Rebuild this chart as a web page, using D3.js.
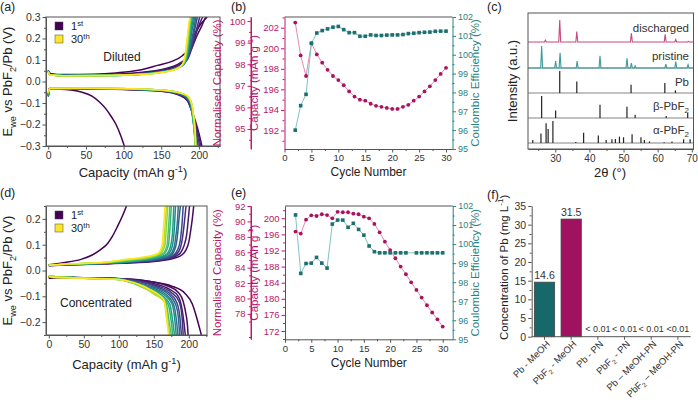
<!DOCTYPE html>
<html><head><meta charset="utf-8">
<script src="https://cdn.jsdelivr.net/npm/d3@7"></script>
<style>body{margin:0;background:#fff;} svg{display:block;}</style>
</head><body><svg id="c" width="698" height="402"></svg>
<script>
// ---------------- DATA ----------------
// (a) diluted: representative cycles, [capacity mAh/g, E V]
const dilutedCycles = [1, 2, 3, 5, 7, 10, 12, 15, 17, 20, 22, 25, 27, 30];
const dilutedCharge = [
  [[0,0.045],[4,0.036],[20,0.032],[60,0.034],[90,0.040],[120,0.052],[145,0.075],[165,0.095],[178,0.12],[186,0.15],[193,0.21],[202,0.265],[211,0.30]],
  [[0,0.046],[3,0.034],[20,0.030],[60,0.031],[100,0.036],[130,0.045],[155,0.060],[172,0.080],[182,0.105],[190,0.15],[197,0.21],[204,0.26],[209,0.30]],
  [[0,0.047],[3,0.033],[20,0.030],[70,0.031],[110,0.036],[140,0.046],[162,0.062],[176,0.082],[184,0.108],[190,0.155],[196,0.22],[201,0.27],[205,0.30]],
  [[0,0.050],[2,0.033],[20,0.029],[80,0.030],[120,0.036],[150,0.047],[170,0.065],[180,0.085],[186,0.11],[191,0.16],[196,0.23],[201,0.30]],
  [[0,0.051],[2,0.032],[20,0.029],[80,0.030],[120,0.035],[150,0.046],[170,0.064],[180,0.084],[185,0.11],[190,0.165],[194,0.235],[198,0.30]],
  [[0,0.052],[2,0.032],[20,0.028],[80,0.029],[120,0.034],[150,0.045],[170,0.062],[180,0.082],[185,0.11],[189,0.17],[193,0.24],[196,0.30]],
  [[0,0.051],[2,0.032],[20,0.028],[80,0.029],[120,0.034],[150,0.045],[170,0.061],[180,0.081],[184,0.11],[188,0.17],[191,0.24],[194.5,0.30]],
  [[0,0.050],[2,0.031],[20,0.028],[80,0.029],[120,0.033],[150,0.044],[170,0.060],[180,0.080],[184,0.11],[187,0.17],[190,0.24],[193,0.30]],
  [[0,0.049],[2,0.031],[20,0.028],[80,0.028],[120,0.033],[150,0.044],[170,0.060],[180,0.080],[183.5,0.11],[186.5,0.175],[189,0.24],[191.5,0.30]],
  [[0,0.048],[2,0.031],[20,0.027],[80,0.028],[120,0.033],[150,0.043],[170,0.060],[179,0.080],[183,0.11],[186,0.18],[188,0.24],[190,0.30]],
  [[0,0.047],[2,0.031],[20,0.027],[80,0.028],[120,0.033],[150,0.043],[170,0.060],[179,0.080],[182.5,0.11],[185.5,0.18],[187.5,0.245],[189.5,0.30]],
  [[0,0.046],[2,0.030],[20,0.027],[80,0.028],[120,0.032],[150,0.043],[170,0.060],[179,0.080],[182,0.11],[185,0.18],[187,0.25],[189,0.30]],
  [[0,0.046],[2,0.030],[20,0.027],[80,0.028],[120,0.032],[150,0.042],[170,0.059],[178.5,0.080],[181.5,0.11],[184.5,0.185],[186.5,0.25],[188.5,0.30]],
  [[0,0.045],[2,0.030],[20,0.027],[80,0.028],[120,0.032],[150,0.042],[170,0.058],[178,0.080],[181,0.11],[184,0.19],[186,0.25],[188,0.30]]
];
const dilutedDischarge = [
  [[0,-0.035],[15,-0.036],[30,-0.040],[45,-0.050],[58,-0.068],[68,-0.095],[76,-0.125],[84,-0.165],[90,-0.20],[96,-0.25],[101,-0.30]],
  [[0,-0.060],[2,-0.035],[50,-0.034],[100,-0.037],[150,-0.045],[175,-0.065],[185,-0.09],[190,-0.13],[195,-0.18],[200,-0.24],[204,-0.30]],
  [[0,-0.062],[2,-0.034],[50,-0.033],[100,-0.036],[150,-0.044],[175,-0.063],[185,-0.09],[190,-0.135],[195,-0.19],[199,-0.245],[202.5,-0.30]],
  [[0,-0.065],[2,-0.034],[50,-0.033],[100,-0.036],[150,-0.043],[176,-0.062],[186,-0.09],[191,-0.14],[195,-0.20],[198,-0.25],[201,-0.30]],
  [[0,-0.068],[2,-0.034],[50,-0.033],[100,-0.036],[150,-0.043],[177,-0.062],[186.5,-0.09],[191,-0.14],[194.5,-0.205],[197.5,-0.26],[199,-0.30]],
  [[0,-0.070],[2,-0.033],[50,-0.032],[100,-0.035],[150,-0.042],[178,-0.062],[187,-0.09],[191,-0.14],[194,-0.21],[197,-0.30]],
  [[0,-0.069],[2,-0.033],[50,-0.032],[100,-0.035],[150,-0.042],[178.5,-0.061],[187.5,-0.09],[191,-0.145],[194,-0.22],[196.5,-0.30]],
  [[0,-0.068],[2,-0.033],[50,-0.032],[100,-0.034],[150,-0.041],[179,-0.060],[188,-0.09],[191,-0.15],[194,-0.23],[196,-0.30]],
  [[0,-0.065],[2,-0.033],[50,-0.032],[100,-0.034],[150,-0.041],[179.5,-0.060],[188.5,-0.09],[191.5,-0.155],[194,-0.235],[195.8,-0.30]],
  [[0,-0.062],[2,-0.032],[50,-0.031],[100,-0.034],[150,-0.040],[180,-0.060],[189,-0.09],[192,-0.16],[194,-0.24],[195.5,-0.30]],
  [[0,-0.060],[2,-0.032],[50,-0.031],[100,-0.034],[150,-0.040],[181,-0.061],[189.5,-0.095],[192.5,-0.165],[194.5,-0.24],[195.3,-0.30]],
  [[0,-0.055],[2,-0.032],[50,-0.031],[100,-0.033],[150,-0.040],[182,-0.062],[190,-0.10],[193,-0.17],[195,-0.30]],
  [[0,-0.053],[2,-0.032],[50,-0.031],[100,-0.033],[150,-0.040],[182.5,-0.062],[190.5,-0.105],[193,-0.165],[195,-0.25],[195.5,-0.30]],
  [[0,-0.050],[2,-0.031],[50,-0.030],[100,-0.033],[150,-0.040],[183,-0.062],[191,-0.11],[193,-0.16],[195,-0.22],[196,-0.30]]
];
// (d) concentrated
const concCycles = [1, 2, 3, 5, 7, 10, 12, 15, 17, 20, 22, 25, 27, 30];
const concCharge = [
  [[0,0.022],[20,0.030],[46,0.043],[62,0.060],[74,0.081],[84,0.105],[91,0.133],[98,0.17],[105,0.21],[111,0.25]],
  [[0,0.018],[30,0.022],[80,0.026],[120,0.030],[160,0.038],[180,0.048],[190,0.060],[196,0.080],[200,0.11],[203,0.16],[205,0.20],[207,0.25]],
  [[0,0.019],[30,0.022],[80,0.026],[120,0.031],[160,0.040],[179,0.052],[188,0.068],[193,0.095],[197,0.14],[199,0.19],[201,0.25]],
  [[0,0.020],[30,0.023],[80,0.027],[120,0.032],[160,0.042],[178,0.055],[186,0.075],[190,0.11],[193,0.17],[196,0.25]],
  [[0,0.020],[30,0.023],[80,0.027],[120,0.033],[160,0.044],[177,0.057],[184,0.08],[188,0.12],[190,0.17],[192,0.25]],
  [[0,0.020],[30,0.024],[80,0.028],[120,0.034],[160,0.046],[175,0.060],[181,0.09],[184,0.14],[186,0.20],[188,0.25]],
  [[0,0.020],[30,0.024],[80,0.028],[120,0.035],[158,0.047],[173,0.061],[179,0.09],[182,0.145],[184,0.20],[185,0.25]],
  [[0,0.020],[30,0.024],[80,0.029],[120,0.036],[155,0.048],[170,0.062],[176,0.09],[179,0.15],[181,0.25]],
  [[0,0.020],[30,0.024],[80,0.029],[120,0.037],[153,0.049],[168,0.063],[174,0.095],[177,0.155],[178.5,0.25]],
  [[0,0.020],[30,0.025],[80,0.030],[120,0.038],[150,0.050],[165,0.065],[171,0.10],[173,0.16],[175,0.25]],
  [[0,0.020],[30,0.025],[80,0.030],[115,0.039],[148,0.051],[163,0.065],[169,0.10],[171,0.165],[173,0.25]],
  [[0,0.020],[30,0.025],[80,0.031],[110,0.040],[145,0.052],[160,0.066],[166,0.10],[168,0.17],[170,0.25]],
  [[0,0.020],[30,0.025],[80,0.031],[108,0.041],[143,0.053],[158,0.066],[164,0.10],[166,0.17],[168,0.25]],
  [[0,0.020],[30,0.026],[80,0.032],[105,0.042],[140,0.054],[156,0.066],[162,0.10],[164,0.17],[166,0.25]]
];
const concDischarge = [
  [[0,-0.030],[30,-0.028],[80,-0.030],[120,-0.035],[150,-0.045],[175,-0.060],[195,-0.09],[205,-0.13],[211,-0.18],[215,-0.22],[218,-0.25]],
  [[0,-0.025],[30,-0.027],[80,-0.030],[120,-0.034],[150,-0.045],[170,-0.060],[185,-0.085],[192,-0.12],[196,-0.17],[198,-0.21],[199,-0.25]],
  [[0,-0.025],[40,-0.028],[90,-0.031],[125,-0.038],[152,-0.052],[172,-0.072],[185,-0.10],[190,-0.145],[193,-0.20],[195,-0.25]],
  [[0,-0.025],[50,-0.028],[100,-0.032],[130,-0.042],[155,-0.060],[175,-0.085],[186,-0.12],[190,-0.17],[192,-0.25]],
  [[0,-0.024],[50,-0.028],[100,-0.032],[128,-0.043],[152,-0.062],[172,-0.087],[183,-0.125],[187,-0.175],[189.5,-0.25]],
  [[0,-0.024],[50,-0.029],[100,-0.033],[125,-0.045],[150,-0.065],[170,-0.09],[181,-0.13],[185,-0.18],[187,-0.25]],
  [[0,-0.024],[50,-0.029],[100,-0.033],[122,-0.045],[147,-0.067],[167,-0.092],[178,-0.13],[182,-0.185],[184.5,-0.25]],
  [[0,-0.023],[50,-0.029],[100,-0.034],[120,-0.046],[145,-0.070],[165,-0.095],[176,-0.13],[180,-0.19],[182,-0.25]],
  [[0,-0.023],[50,-0.029],[100,-0.034],[119,-0.046],[143,-0.071],[162,-0.097],[173,-0.132],[177,-0.195],[179.5,-0.25]],
  [[0,-0.022],[50,-0.030],[100,-0.035],[118,-0.047],[140,-0.072],[160,-0.10],[171,-0.135],[175,-0.20],[177,-0.25]],
  [[0,-0.022],[50,-0.030],[100,-0.035],[118,-0.047],[139,-0.071],[157,-0.097],[168,-0.13],[172,-0.20],[175,-0.25]],
  [[0,-0.022],[50,-0.030],[100,-0.035],[118,-0.047],[138,-0.070],[155,-0.095],[166,-0.125],[170,-0.20],[173,-0.25]],
  [[0,-0.022],[50,-0.030],[100,-0.035],[119,-0.046],[136,-0.065],[150,-0.092],[165,-0.12],[168,-0.18],[172,-0.25]],
  [[0,-0.022],[10,-0.028],[50,-0.030],[100,-0.035],[120,-0.045],[135,-0.060],[145,-0.074],[155,-0.09],[164,-0.112],[167,-0.15],[169,-0.20],[171,-0.25]]
];

// (b) diluted cycling
const cycleNumbers = [2,3,4,5,6,7,8,9,10,11,12,13,14,15,16,17,18,19,20,21,22,23,24,25,26,27,28,29,30];
const capDiluted = [202.5,199.3,197.3,200.5,199.4,198.6,197.9,197.3,196.9,196.4,195.8,195.3,195.0,194.9,194.6,194.4,194.3,194.2,194.1,194.1,194.3,194.5,194.9,195.3,195.8,196.3,196.9,197.5,198.1];
const ceDiluted = [96.0,97.3,97.9,100.6,101.15,101.28,101.37,101.46,101.5,101.33,101.17,101.17,100.98,100.98,101.05,101.02,101.02,101.04,101.05,101.05,101.07,101.12,101.14,101.17,101.19,101.2,101.24,101.25,101.25];
// (e) concentrated cycling
const capConc = [196.7,196.2,199.65,200.74,200.57,201.0,200.8,200.0,201.6,201.5,201.5,201.15,201.0,200.4,200.0,198.6,196.5,194.2,192.1,190.07,188.0,186.1,184.1,182.2,180.3,178.4,176.6,174.9,173.1];
const ceConcCycles = [2,3,4,5,6,7,8,9,10,11,12,13,14,15,16,17,18,19,20,21,22,23,25,26,27,28,29,30];
const ceConc = [101.53,98.46,98.98,99.0,99.3,99.0,98.74,101.05,101.26,101.26,100.88,101.09,100.77,100.47,99.9,99.6,99.54,99.54,99.54,99.54,99.54,99.54,99.54,99.54,99.54,99.54,99.54,99.54];

// (c) XRD: [2theta, relative intensity]
const xrdDischarged = [[27.1,8],[31.3,100],[36.3,48],[52.3,40],[62.2,35],[65.3,11],[69.0,3]];
const xrdPristine = [[26.0,100],[30.1,32],[31.4,69],[36.4,32],[43.1,56],[51.0,44],[52.3,22],[53.4,10],[62.4,18],[65.3,29],[68.9,15]];
const refPb = [[31.3,100],[36.3,52],[52.2,37],[62.1,45],[65.2,12]];
const refBeta = [[26.0,100],[30.1,34],[43.1,60],[51.0,51],[53.4,15],[62.5,9],[68.8,23]];
const refAlpha = [[23.4,14],[25.8,43],[27.3,90],[27.9,64],[29.3,100],[36.0,4],[38.3,47],[42.6,34],[44.9,14],[46.6,17],[47.6,18],[48.8,29],[50.0,26],[52.5,40],[55.1,26],[56.1,14],[57.6,7],[61.9,3],[64.2,7],[67.6,17],[69.5,17]];
const xrdLabels = ["discharged", "pristine", "Pb", "β-PbF₂", "α-PbF₂"];

// (f) Pb concentration
const fCategories = ["Pb - MeOH", "PbF₂ - MeOH", "Pb - PN", "PbF₂ - PN", "Pb – MeOH-PN", "PbF₂ – MeOH-PN"];
const fValues = [14.6, 31.5, 0, 0, 0, 0];
const fLabels = ["14.6", "31.5", "< 0.01", "< 0.01", "< 0.01", "<0.01"];

// ---------------- DRAWING ----------------
const FONT = '"Liberation Sans", Arial, Helvetica, sans-serif';
const svg = d3.select('#c').attr('font-family', FONT);
const GRAY = '#555', TXT = '#333';
const PINK = '#c2186b', PINKTXT = '#b8176a', TEAL = '#2b8585', TEALTXT = '#2a8282';

function addAxis(parent, kind, scale, pos, major, minor, fmt, color, txtColor, fs) {
  const make = {bottom: d3.axisBottom, left: d3.axisLeft, right: d3.axisRight}[kind];
  const tr = kind === 'bottom' ? `translate(0,${pos})` : `translate(${pos},0)`;
  if (minor && minor.length) {
    const gm = parent.append('g').attr('transform', tr)
      .call(make(scale).tickValues(minor).tickFormat('').tickSize(2).tickSizeOuter(0));
    gm.select('.domain').remove();
    gm.selectAll('line').attr('stroke', color);
  }
  const g = parent.append('g').attr('transform', tr)
    .call(make(scale).tickValues(major).tickFormat(fmt).tickSize(3.5).tickSizeOuter(0).tickPadding(2));
  g.attr('font-family', null).attr('font-size', null);
  g.select('.domain').attr('stroke', color);
  g.selectAll('.tick line').attr('stroke', color);
  g.selectAll('.tick text').attr('fill', txtColor || TXT).attr('font-size', fs || 10.5);
  return g;
}
function rich(parent, x, y, parts, size, color, anchor, rot) {
  const t = parent.append('text').attr('transform', `translate(${x},${y}) rotate(${rot || 0})`)
    .attr('text-anchor', anchor || 'middle').attr('font-size', size).attr('fill', color || TXT);
  let shift = 0;
  parts.forEach(p => {
    const s = typeof p === 'string' ? p : p[0];
    const mode = typeof p === 'string' ? null : p[1];
    const target = mode === 'sub' ? size * 0.3 : mode === 'sup' ? -size * 0.4 : 0;
    t.append('tspan').attr('dy', target - shift).attr('font-size', mode ? size * 0.7 : size).text(s);
    shift = target;
  });
  return t;
}
function panelLabel(x, y, s) {
  svg.append('text').attr('x', x).attr('y', y).attr('font-size', 12.5).attr('fill', '#222').text(s);
}
const defs = svg.append('defs');

// ---- voltage panels (a), (d)
function voltagePanel(opt) {
  const g = svg.append('g');
  const x = d3.scaleLinear(opt.xDom, [opt.left, opt.right]);
  const y = d3.scaleLinear(opt.yDom, [opt.bottom, opt.top]);
  defs.append('clipPath').attr('id', opt.id).append('rect')
    .attr('x', opt.left).attr('y', opt.top).attr('width', opt.right - opt.left).attr('height', opt.bottom - opt.top);
  const line = d3.line().x(d => x(d[0])).y(d => y(d[1])).curve(d3.curveMonotoneX);
  const pg = g.append('g').attr('clip-path', `url(#${opt.id})`);
  opt.cycles.forEach((c, i) => {
    const col = d3.interpolateViridis((c - 1) / 29);
    [opt.charge[i], opt.discharge[i]].forEach(arr => {
      pg.append('path').attr('d', line(arr)).attr('fill', 'none').attr('stroke', col).attr('stroke-width', 1.5);
    });
  });
  g.append('rect').attr('x', opt.left).attr('y', opt.top).attr('width', opt.right - opt.left)
    .attr('height', opt.bottom - opt.top).attr('fill', 'none').attr('stroke', GRAY);
  addAxis(g, 'bottom', x, opt.bottom, [0, 50, 100, 150, 200], [25, 75, 125, 175, 225].filter(v => v <= opt.xDom[1]), d3.format('d'), GRAY);
  addAxis(g, 'left', y, opt.left, opt.yTicks, opt.yMinor, d3.format('.1f'), GRAY);
  rich(g, 12, (opt.top + opt.bottom) / 2, ['E', ['we', 'sub'], ' vs PbF', ['2', 'sub'], '/Pb (V)'], 13, '#222', 'middle', -90);
  rich(g, (opt.left + opt.right) / 2, opt.xTitleY, ['Capacity (mAh g', ['-1', 'sup'], ')'], 13, '#222', 'middle');
  // legend
  [[1, opt.legY], [30, opt.legY + 13]].forEach(([c, yy], k) => {
    g.append('rect').attr('x', 55).attr('y', yy - 4).attr('width', 8).attr('height', 8)
      .attr('fill', d3.interpolateViridis((c - 1) / 29)).attr('stroke', '#444').attr('stroke-width', 0.5);
    rich(g, 71, yy + 4, k === 0 ? ['1', ['st', 'sup']] : ['30', ['th', 'sup']], 11, '#222', 'start');
  });
  g.append('text').attr('x', opt.tagX).attr('y', opt.tagY).attr('text-anchor', opt.tagAnchor)
    .attr('font-size', 12).attr('fill', '#222').text(opt.tag);
}
voltagePanel({id: 'ca', xDom: [-3, 228], yDom: [-0.3, 0.3], left: 46, right: 220, top: 17, bottom: 146,
  cycles: dilutedCycles, charge: dilutedCharge, discharge: dilutedDischarge,
  yTicks: [-0.3, -0.2, -0.1, 0, 0.1, 0.2, 0.3], yMinor: [-0.25, -0.15, -0.05, 0.05, 0.15, 0.25],
  xTitleY: 177, legY: 26, tag: 'Diluted', tagX: 122, tagY: 61, tagAnchor: 'middle'});
voltagePanel({id: 'cd', xDom: [-4, 226], yDom: [-0.25, 0.25], left: 46, right: 207, top: 206, bottom: 335,
  cycles: concCycles, charge: concCharge, discharge: concDischarge,
  yTicks: [-0.2, -0.1, 0, 0.1, 0.2], yMinor: [-0.25, -0.15, -0.05, 0.05, 0.15, 0.25],
  xTitleY: 369, legY: 215, tag: 'Concentrated', tagX: 60, tagY: 307, tagAnchor: 'start'});

// ---- cycling panels (b), (e)
function cyclingPanel(opt) {
  const g = svg.append('g');
  const x = d3.scaleLinear(opt.xDom, [opt.left, opt.right]);
  const yCap = d3.scaleLinear(opt.capDom, [opt.bottom, opt.top]);
  const yNorm = d3.scaleLinear(opt.normDom, [opt.bottom, opt.top]);
  const yCE = d3.scaleLinear([95, 102], [opt.bottom, opt.top]);
  const FS = 9.5, TS = 11.5;
  g.append('line').attr('x1', opt.left).attr('x2', opt.right).attr('y1', opt.top).attr('y2', opt.top).attr('stroke', GRAY);
  addAxis(g, 'bottom', x, opt.bottom, [0, 5, 10, 15, 20, 25, 30], [2.5, 7.5, 12.5, 17.5, 22.5, 27.5], d3.format('d'), GRAY, TXT, FS);
  addAxis(g, 'left', yCap, opt.left, opt.capTicks, opt.capMinor, d3.format('d'), PINK, PINKTXT, FS);
  addAxis(g, 'left', yNorm, opt.normX, opt.normTicks, opt.normMinor, d3.format('d'), PINK, PINKTXT, FS);
  addAxis(g, 'right', yCE, opt.right, [95, 96, 97, 98, 99, 100, 101, 102], [95.5, 96.5, 97.5, 98.5, 99.5, 100.5, 101.5], d3.format('d'), TEAL, TEALTXT, 9);
  g.append('line').attr('x1', opt.normX).attr('x2', opt.normX).attr('y1', opt.top).attr('y2', opt.bottom).attr('stroke', PINK);
  const mid = (opt.top + opt.bottom) / 2;
  g.append('text').attr('transform', `translate(${opt.normX - 30},${mid}) rotate(-90)`).attr('text-anchor', 'middle')
    .attr('font-size', TS).attr('fill', PINKTXT).text('Normalised Capacity (%)');
  rich(g, opt.left - 27, mid, ['Capacity (mAh g', ['-1', 'sup'], ')'], TS, PINKTXT, 'middle', -90);
  g.append('text').attr('transform', `translate(${opt.right + 26},${mid}) rotate(-90)`).attr('text-anchor', 'middle')
    .attr('font-size', TS).attr('fill', TEALTXT).text('Coulombic Efficiency (%)');
  g.append('text').attr('x', (opt.left + opt.right) / 2).attr('y', opt.xTitleY).attr('text-anchor', 'middle')
    .attr('font-size', 12).attr('fill', '#222').text('Cycle Number');
  const capPts = opt.cycles.map((c, i) => [c, opt.cap[i]]);
  const cePts = opt.ceCycles.map((c, i) => [c, opt.ce[i]]);
  g.append('path').attr('d', d3.line().x(d => x(d[0])).y(d => yCap(d[1]))(capPts))
    .attr('fill', 'none').attr('stroke', '#e68ab3').attr('stroke-width', 1);
  g.append('path').attr('d', d3.line().x(d => x(d[0])).y(d => yCE(d[1]))(cePts))
    .attr('fill', 'none').attr('stroke', '#7fc3c3').attr('stroke-width', 1);
  g.selectAll(null).data(capPts).join('circle').attr('cx', d => x(d[0])).attr('cy', d => yCap(d[1]))
    .attr('r', 1.9).attr('fill', '#a8125e');
  g.selectAll(null).data(cePts).join('rect').attr('x', d => x(d[0]) - 1.8).attr('y', d => yCE(d[1]) - 1.8)
    .attr('width', 3.6).attr('height', 3.6).attr('fill', '#1d6f71');
}
cyclingPanel({xDom: [0, 31.2], left: 284.5, right: 452.5, top: 17, bottom: 149, normX: 251,
  capDom: [190.2, 203.04], normDom: [94.07, 100.19],
  capTicks: [192, 194, 196, 198, 200, 202], capMinor: [191, 193, 195, 197, 199, 201, 203],
  normTicks: [95, 96, 97, 98, 99, 100], normMinor: [94.5, 95.5, 96.5, 97.5, 98.5, 99.5],
  cycles: cycleNumbers, cap: capDiluted, ceCycles: cycleNumbers, ce: ceDiluted, xTitleY: 176});
cyclingPanel({xDom: [0, 31.9], left: 285, right: 452.7, top: 206, bottom: 339.3, normX: 251,
  capDom: [169.94, 203.05], normDom: [74.7, 92],
  capTicks: [172, 176, 180, 184, 188, 192, 196, 200], capMinor: [170, 174, 178, 182, 186, 190, 194, 198, 202],
  normTicks: [78, 80, 82, 84, 86, 88, 90, 92], normMinor: [75, 77, 79, 81, 83, 85, 87, 89, 91],
  cycles: cycleNumbers, cap: capConc, ceCycles: ceConcCycles, ce: ceConc, xTitleY: 367});

// ---- XRD panel (c)
(function () {
  const g = svg.append('g');
  const left = 528, right = 693.5, top = 13, bottom = 149;
  const x = d3.scaleLinear([22, 70.5], [left, right]);
  const bases = [42, 68, 93, 118, 143];
  const colors = ['#c9477f', '#3b9b9b', '#222', '#222', '#222'];
  const patterns = [xrdDischarged, xrdPristine, refPb, refBeta, refAlpha];
  [68, 93, 118, 143].forEach(b => g.append('line').attr('x1', left).attr('x2', right).attr('y1', b).attr('y2', b)
    .attr('stroke', '#666').attr('stroke-width', 0.8));
  patterns.forEach((pat, i) => {
    const y = d3.scaleLinear([0, 100], [bases[i], bases[i] - 22]);
    if (i < 2) {
      const pts = [[22, 0]];
      pat.forEach(([p, h]) => { pts.push([p - 0.28, 0], [p, h], [p + 0.28, 0]); });
      pts.push([70.5, 0]);
      g.append('path').attr('d', d3.line().x(d => x(d[0])).y(d => y(d[1]))(pts))
        .attr('fill', 'none').attr('stroke', colors[i]).attr('stroke-width', 1.1);
    } else {
      g.selectAll(null).data(pat).join('line').attr('x1', d => x(d[0])).attr('x2', d => x(d[0]))
        .attr('y1', y(0)).attr('y2', d => y(d[1])).attr('stroke', colors[i]).attr('stroke-width', 1.2);
    }
  });
  const labY = [28, 56, 82, 106, 130];
  xrdLabels.forEach((s, i) => {
    const m = s.match(/^(.*)₂$/);
    if (m) rich(g, 689, labY[i] + 4, [m[1], ['2', 'sub']], 11.5, '#333', 'end');
    else g.append('text').attr('x', 689).attr('y', labY[i] + 4).attr('text-anchor', 'end').attr('font-size', 11.5).attr('fill', '#333').text(s);
  });
  g.append('rect').attr('x', left).attr('y', top).attr('width', right - left).attr('height', bottom - top)
    .attr('fill', 'none').attr('stroke', GRAY);
  addAxis(g, 'bottom', x, bottom, [30, 40, 50, 60, 70], [25, 35, 45, 55, 65], d3.format('d'), GRAY, TXT, 10);
  g.append('text').attr('x', 610).attr('y', 177).attr('text-anchor', 'middle').attr('font-size', 13).attr('fill', '#222').text('2θ (°)');
  g.append('text').attr('transform', `translate(517,81) rotate(-90)`).attr('text-anchor', 'middle')
    .attr('font-size', 13).attr('fill', '#222').text('Intensity (a.u.)');
})();

// ---- bar panel (f)
(function () {
  const g = svg.append('g');
  const left = 531.7, right = 690.7, top = 206, bottom = 336.7;
  const x = d3.scaleBand(fCategories, [left, right]).paddingInner(0.24).paddingOuter(0.1);
  const y = d3.scaleLinear([0, 35], [bottom, top]);
  const barCols = ['#17686b', '#a0115f', '#888', '#888', '#888', '#888'];
  g.selectAll(null).data(fCategories).join('rect')
    .attr('x', d => x(d)).attr('width', x.bandwidth())
    .attr('y', (d, i) => y(fValues[i])).attr('height', (d, i) => y(0) - y(fValues[i]))
    .attr('fill', (d, i) => barCols[i]).attr('stroke', '#444').attr('stroke-width', 0.8);
  g.selectAll(null).data(fCategories).join('text')
    .attr('x', d => x(d) + x.bandwidth() / 2).attr('y', (d, i) => fValues[i] > 0 ? y(fValues[i]) - 3 : y(0) - 5)
    .attr('text-anchor', 'middle').attr('font-size', (d, i) => fValues[i] > 0 ? 10.5 : 9).attr('fill', '#333')
    .text((d, i) => fLabels[i]);
  addAxis(g, 'left', y, left, [0, 5, 10, 15, 20, 25, 30, 35], [2.5, 7.5, 12.5, 17.5, 22.5, 27.5, 32.5], d3.format('d'), GRAY);
  const xa = g.append('g').attr('transform', `translate(0,${bottom})`)
    .call(d3.axisBottom(x).tickSize(3).tickSizeOuter(0).tickFormat(''));
  xa.select('.domain').attr('stroke', GRAY).attr('d', `M${left},0H${right}`);
  xa.selectAll('.tick line').attr('stroke', GRAY);
  fCategories.forEach(c => {
    const cx = x(c) + x.bandwidth() / 2;
    const m = c.match(/^(.*?)₂(.*)$/);
    const parts = m ? [m[1], ['2', 'sub'], m[2]] : [c];
    rich(g, cx + 6, bottom + 8, parts, 9.5, '#333', 'end', -45);
  });
  rich(g, 508, (top + bottom) / 2 - 4, ['Concentration of Pb (mg L', ['-1', 'sup'], ')'], 11.5, '#222', 'middle', -90);
})();

panelLabel(0, 11, '(a)');
panelLabel(231, 11, '(b)');
panelLabel(487, 11, '(c)');
panelLabel(0, 197, '(d)');
panelLabel(231, 197, '(e)');
panelLabel(487, 199, '(f)');
</script></body></html>
